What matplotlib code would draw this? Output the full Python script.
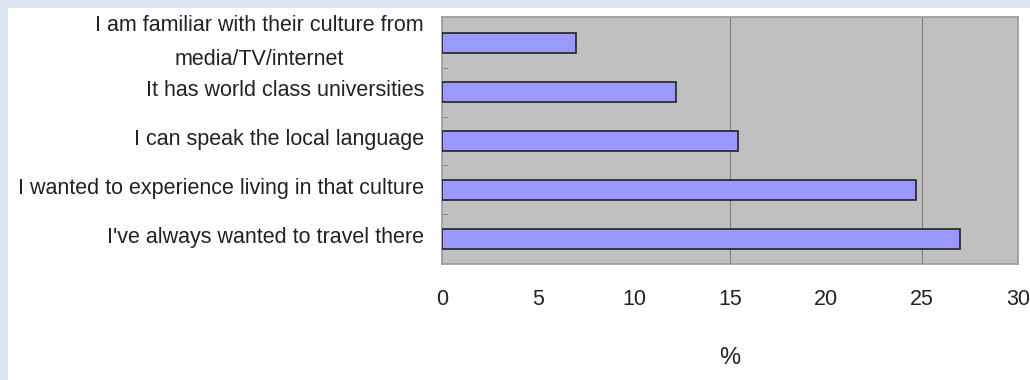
import matplotlib.pyplot as plt
from matplotlib.patches import Rectangle
from matplotlib.transforms import ScaledTranslation
import numpy as np

plt.rcParams['font.family'] = ['Liberation Sans', 'DejaVu Sans']

reasons = ["I am familiar with their culture from\nmedia/TV/internet",
           "It has world class universities",
           "I can speak the local language",
           "I wanted to experience living in that culture",
           "I've always wanted to travel there"]
percent = [7.0, 12.2, 15.4, 24.7, 27.0]
x_ticks = [0, 5, 10, 15, 20, 25, 30]
grid_at = [15, 25]

fig = plt.figure(figsize=(10.3, 3.8), dpi=100)
fig.patch.set_facecolor('#dce6f2')
# white panel inside the light blue frame (top and left edges)
fig.patches.append(Rectangle((8 / 1030, 0), 1, 1 - 8 / 380, transform=fig.transFigure,
                             facecolor='white', edgecolor='none', zorder=-5))

ax = fig.add_axes([442 / 1030, 1 - 264 / 380, 576 / 1030, 247 / 380])
ax.set_zorder(2)
ax.set_facecolor('#c0c0c0')

y = np.arange(len(reasons))
ax.barh(y, percent, height=0.41, color='#9999ff', edgecolor='#222222', linewidth=1.2, zorder=3)
for g in grid_at:
    ax.axvline(g, color='#808080', linewidth=0.8, zorder=1)

ax.set_xlim(0, 30)
ax.set_ylim(len(reasons) - 0.48, -0.54)
ax.set_xticks(x_ticks)
ax.set_xticklabels([str(t) for t in x_ticks], fontsize=15.5, color='#222222')
ax.tick_params(axis='x', length=0, pad=18)
ax.set_yticks(y)
ax.set_yticklabels(reasons, fontsize=15.5, color='#222222', linespacing=1.8,
                   ha='right', multialignment='center')
ax.set_yticks(np.arange(len(reasons) - 1) + 0.5, minor=True)
ax.tick_params(axis='y', which='major', length=0, pad=13)
ax.tick_params(axis='y', which='minor', direction='in', length=4, color='#808080')

# labels sit a little above the bar centres in the original
for lab in ax.get_yticklabels():
    dy = 10 if '\n' in lab.get_text() else 4
    lab.set_transform(lab.get_transform() + ScaledTranslation(0, dy / 100, fig.dpi_scale_trans))

for sp in ax.spines.values():
    sp.set_color('#999999')
    sp.set_linewidth(1.2)

ax.set_xlabel('%', fontsize=17, color='#222222', labelpad=27)

fig.savefig('out.png', dpi=100)
